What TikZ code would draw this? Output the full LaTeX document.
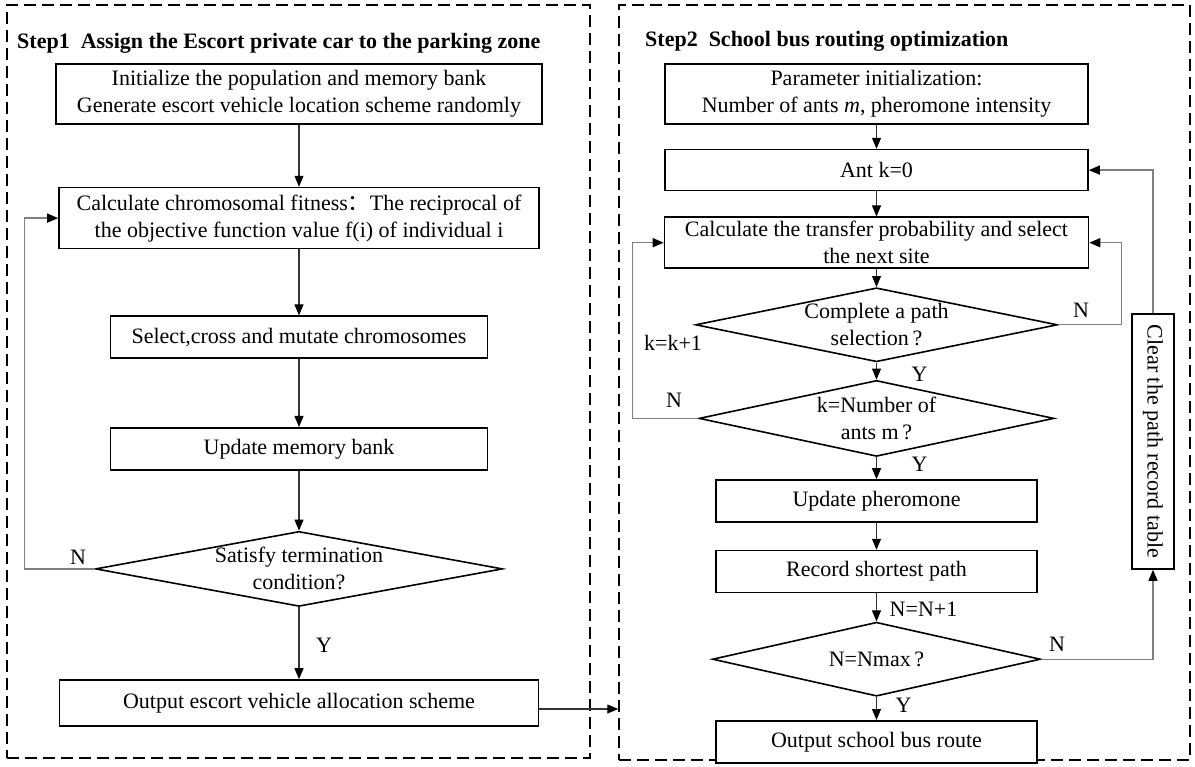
\documentclass[tikz,border=0pt]{standalone}
\usepackage{fontspec}
\setmainfont{Liberation Serif}
\newfontfamily\cjk{Noto Sans CJK SC}
\usetikzlibrary{arrows.meta,positioning,shapes.geometric}
\definecolor{linegray}{HTML}{7F7F7F}
\tikzset{
  stepbox/.style={
    draw=black,
    line width=1.6pt,
    fill=white,
    align=center,
    inner sep=0pt,
    font=\fontsize{22}{27}\selectfont
  },
  decision/.style={
    diamond,
    draw=black,
    line width=1.6pt,
    inner sep=0pt
  },
  dtext/.style={
    align=center,
    inner sep=0pt,
    font=\fontsize{22}{27}\selectfont
  },
  flowtag/.style={
    inner sep=0pt,
    font=\fontsize{22}{27}\selectfont
  },
  steptitle/.style={
    anchor=west,
    inner sep=0pt,
    font=\fontsize{22}{27}\selectfont\bfseries
  },
  stageframe/.style={
    draw=black,
    line width=1.5pt,
    dash pattern=on 12pt off 6pt,
    inner sep=0pt
  },
  flowarrow/.style={
    -{Triangle[length=11pt,width=9pt,color=black]},
    line width=1.1pt,
    draw=black!80
  },
  looparrow/.style={
    -{Triangle[length=11pt,width=9pt,color=black]},
    line width=1.4pt,
    draw=linegray
  }
}
\begin{document}
\begin{tikzpicture}[x=1pt,y=-1pt]
  \useasboundingbox (0,0) rectangle (1195,767);
  \node[stageframe, minimum width=583pt, minimum height=753pt] (stage1) at (298.5,381.5) {};
  \node[stageframe, minimum width=571pt, minimum height=755pt] (stage2) at (904.5,382.5) {};
  \node[steptitle] (title1) at (17,43) {Step1\ \ Assign the Escort private car to the parking zone};
  \node[steptitle] (title2) at (645,41) {Step2\ \ School bus routing optimization};

  \node[stepbox, minimum width=486pt, minimum height=60pt] (init) at (299,94)
    {Initialize the population and memory bank\\Generate escort vehicle location scheme randomly};
  \node[stepbox, minimum width=480pt, minimum height=61pt, below=62pt of init] (calc)
    {Calculate chromosomal fitness{\cjk ：}The reciprocal of\\the objective function value f(i) of individual i};
  \node[stepbox, minimum width=377pt, minimum height=42pt, below=66pt of calc] (select)
    {Select,cross and mutate chromosomes};
  \node[stepbox, minimum width=377pt, minimum height=42pt, below=68pt of select] (update)
    {Update memory bank};
  \node[decision, minimum width=407pt, minimum height=75pt, below=60pt of update,
    label={[dtext]center:Satisfy termination\\condition?}] (cond) {};
  \node[stepbox, minimum width=479pt, minimum height=46pt, below=72pt of cond] (output)
    {Output escort vehicle allocation scheme};
  \foreach \a/\b in {init/calc,calc/select,select/update,update/cond,cond/output}
    \draw[flowarrow] (\a) -- (\b);
  \draw[looparrow] (cond.west) -- ++(-70,0) |- (calc.west);
  \node[flowtag, above left=4.5pt and 8.5pt of cond.west] (condN) {N};
  \node[flowtag, below right=31pt and 17pt of cond.south] (condY) {Y};
  \draw[flowarrow] ([yshift=-6pt]output.east) -- ([yshift=-6pt]output.east -| stage2.west);

  \node[stepbox, minimum width=423pt, minimum height=60pt] (param) at (876.5,94)
    {Parameter initialization:\\Number of ants \textit{m}, pheromone intensity};
  \node[stepbox, minimum width=423pt, minimum height=41pt, below=24pt of param] (ant)
    {Ant k=0};
  \node[stepbox, minimum width=424pt, minimum height=51pt, below=25pt of ant] (trans)
    {Calculate the transfer probability and select\\the next site};
  \node[decision, minimum width=362pt, minimum height=74pt, below=18pt of trans,
    label={[dtext]center:Complete a path\\selection\,?}] (pathdone) {};
  \node[decision, minimum width=355pt, minimum height=76pt, below=17pt of pathdone,
    label={[dtext]center:k=Number of\\ants m\,?}] (antsdone) {};
  \node[stepbox, minimum width=321pt, minimum height=42pt, below=22pt of antsdone] (pher)
    {Update pheromone};
  \node[stepbox, minimum width=321pt, minimum height=42pt, below=27pt of pher] (record)
    {Record shortest path};
  \node[decision, minimum width=328pt, minimum height=74pt, below=28pt of record,
    label={[dtext]center:N=Nmax\,?}] (itdone) {};
  \node[stepbox, minimum width=321pt, minimum height=42pt, below=23pt of itdone] (busout)
    {Output school bus route};
  \node[stepbox, minimum width=42pt, minimum height=255pt] (clear) at (1153,441.5)
    {\rotatebox{-90}{Clear the path record table}};
  \foreach \a/\b in {param/ant,ant/trans,trans/pathdone,pathdone/antsdone,antsdone/pher,pher/record,record/itdone,itdone/busout}
    \draw[flowarrow] (\a) -- (\b);
  \draw[looparrow] (pathdone.east) -- ++(63,0) |- (trans.east);
  \draw[looparrow] (antsdone.west) -- ++(-66,0) |- (trans.west);
  \draw[looparrow] (clear.north) |- (ant.east);
  \draw[looparrow] (itdone.east) -| (clear.south);
  \node[flowtag, above right=7pt and 14.5pt of pathdone.east] (pathN) {N};
  \node[flowtag, below right=4pt and 35pt of pathdone.south] (pathY) {Y};
  \node[flowtag, above left=11pt and 16pt of antsdone.west] (antsN) {N};
  \node[flowtag, below right=0pt and 35pt of antsdone.south] (antsY) {Y};
  \node[flowtag] (kstep) at (673,343) {k=k+1};
  \node[flowtag, below right=8pt and 13pt of record.south] (nstep) {N=N+1};
  \node[flowtag, above right=8pt and 7.5pt of itdone.east] (itN) {N};
  \node[flowtag, below right=1pt and 19pt of itdone.south] (itY) {Y};
\end{tikzpicture}
\end{document}
